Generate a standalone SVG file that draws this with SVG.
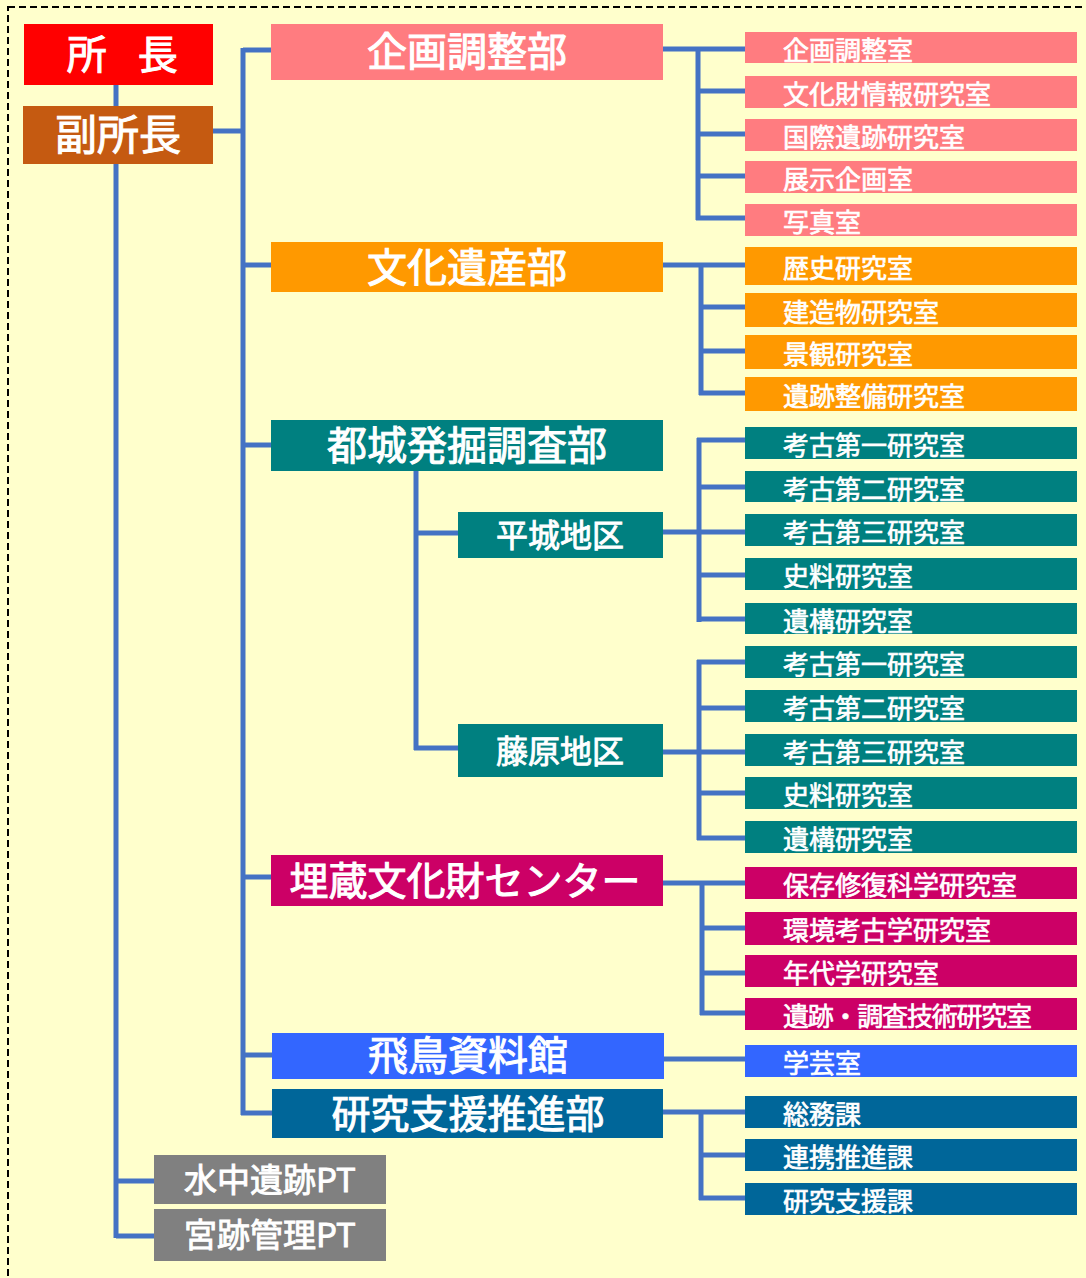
<svg xmlns="http://www.w3.org/2000/svg" width="1086" height="1278" viewBox="0 0 1086 1278">
<style>
text{font-family:"Noto Sans CJK JP","Noto Sans",sans-serif;fill:#fff;stroke:#fff;stroke-width:0.7px}
.big{font-size:40px;text-anchor:middle;stroke-width:1px}
.mid{font-size:32px;text-anchor:middle;stroke-width:0.9px}
.sub{font-size:26px}
.c line,.c polyline{stroke:#4472C4;stroke-width:5;fill:none}
.kikaku{fill:#FF7C80}.bunka{fill:#FF9900}.tojo{fill:#008080}.maizo{fill:#CC0066}.asuka{fill:#3366FF}.kenkyu{fill:#006699}.pt{fill:#808080}
</style>
<rect x="0" y="0" width="1086" height="1278" fill="#FFFFCC"/>
<rect x="8" y="7" width="1100" height="1300" fill="none" stroke="#000" stroke-width="2" stroke-dasharray="7 4"/>
<g class="c" id="connectors">
<line x1="116" y1="85" x2="116" y2="1238"/>
<polyline points="154,1181 116,1181"/>
<polyline points="154,1236 116,1236"/>
<line x1="213" y1="131" x2="243" y2="131"/>
<line x1="243" y1="48" x2="243" y2="1115"/>
<line x1="243" y1="50" x2="271" y2="50"/>
<line x1="243" y1="265" x2="271" y2="265"/>
<line x1="243" y1="445" x2="271" y2="445"/>
<line x1="243" y1="877" x2="271" y2="877"/>
<line x1="243" y1="1055" x2="272" y2="1055"/>
<line x1="241" y1="1113" x2="272" y2="1113"/>
<line x1="663" y1="49" x2="745" y2="49"/>
<line x1="698" y1="47" x2="698" y2="220"/>
<line x1="698" y1="91" x2="745" y2="91"/>
<line x1="698" y1="134" x2="745" y2="134"/>
<line x1="698" y1="176" x2="745" y2="176"/>
<line x1="696" y1="218" x2="745" y2="218"/>
<line x1="663" y1="265" x2="745" y2="265"/>
<line x1="701" y1="263" x2="701" y2="395"/>
<line x1="701" y1="307" x2="745" y2="307"/>
<line x1="701" y1="351" x2="745" y2="351"/>
<line x1="699" y1="393" x2="745" y2="393"/>
<line x1="416" y1="471" x2="416" y2="750"/>
<line x1="416" y1="533" x2="458" y2="533"/>
<line x1="414" y1="748" x2="458" y2="748"/>
<line x1="663" y1="532" x2="699" y2="532"/>
<line x1="699" y1="438" x2="699" y2="622"/>
<line x1="697" y1="440" x2="745" y2="440"/>
<line x1="699" y1="487" x2="745" y2="487"/>
<line x1="699" y1="532" x2="745" y2="532"/>
<line x1="699" y1="575" x2="745" y2="575"/>
<line x1="697" y1="619" x2="745" y2="619"/>
<line x1="663" y1="752" x2="699" y2="752"/>
<line x1="699" y1="660" x2="699" y2="840"/>
<line x1="697" y1="662" x2="745" y2="662"/>
<line x1="699" y1="708" x2="745" y2="708"/>
<line x1="699" y1="752" x2="745" y2="752"/>
<line x1="699" y1="793" x2="745" y2="793"/>
<line x1="697" y1="838" x2="745" y2="838"/>
<line x1="663" y1="883" x2="745" y2="883"/>
<line x1="702" y1="881" x2="702" y2="1015"/>
<line x1="702" y1="928" x2="745" y2="928"/>
<line x1="702" y1="973" x2="745" y2="973"/>
<line x1="700" y1="1013" x2="745" y2="1013"/>
<line x1="664" y1="1059" x2="745" y2="1059"/>
<line x1="663" y1="1112" x2="745" y2="1112"/>
<line x1="701" y1="1110" x2="701" y2="1200"/>
<line x1="701" y1="1155" x2="745" y2="1155"/>
<line x1="699" y1="1198" x2="745" y2="1198"/>
</g>
<g id="shocho"><rect x="24" y="24" width="189" height="61" fill="#FF0000"/><text class="big" x="120" y="69" style="letter-spacing:-4.5px">所　長</text></g>
<g id="fukushocho"><rect x="23" y="106" width="190" height="58" fill="#C55A11"/><text class="big" x="118" y="150" style="font-size:42px">副所長</text></g>

<g id="kikaku"><rect class="kikaku" x="271" y="24" width="392" height="56"/><text class="big" x="467" y="66">企画調整部</text></g>
<g id="kikaku-1"><rect class="kikaku" x="745" y="32" width="332" height="31"/><text class="sub" x="783" y="60">企画調整室</text></g>
<g id="kikaku-2"><rect class="kikaku" x="745" y="76" width="332" height="32"/><text class="sub" x="783" y="104">文化財情報研究室</text></g>
<g id="kikaku-3"><rect class="kikaku" x="745" y="119" width="332" height="32"/><text class="sub" x="783" y="147">国際遺跡研究室</text></g>
<g id="kikaku-4"><rect class="kikaku" x="745" y="161" width="332" height="32"/><text class="sub" x="783" y="189">展示企画室</text></g>
<g id="kikaku-5"><rect class="kikaku" x="745" y="204" width="332" height="32"/><text class="sub" x="783" y="232">写真室</text></g>

<g id="bunka"><rect class="bunka" x="271" y="242" width="392" height="50"/><text class="big" x="467" y="282">文化遺産部</text></g>
<g id="bunka-1"><rect class="bunka" x="745" y="247" width="332" height="38"/><text class="sub" x="783" y="278">歴史研究室</text></g>
<g id="bunka-2"><rect class="bunka" x="745" y="293" width="332" height="34"/><text class="sub" x="783" y="322">建造物研究室</text></g>
<g id="bunka-3"><rect class="bunka" x="745" y="335" width="332" height="34"/><text class="sub" x="783" y="364">景観研究室</text></g>
<g id="bunka-4"><rect class="bunka" x="745" y="377" width="332" height="34"/><text class="sub" x="783" y="406">遺跡整備研究室</text></g>

<g id="tojo"><rect class="tojo" x="271" y="420" width="392" height="51"/><text class="big" x="467" y="460">都城発掘調査部</text></g>
<g id="heijo"><rect class="tojo" x="458" y="512" width="205" height="46"/><text class="mid" x="560" y="547">平城地区</text></g>
<g id="heijo-1"><rect class="tojo" x="745" y="427" width="332" height="32"/><text class="sub" x="783" y="455">考古第一研究室</text></g>
<g id="heijo-2"><rect class="tojo" x="745" y="471" width="332" height="31"/><text class="sub" x="783" y="499">考古第二研究室</text></g>
<g id="heijo-3"><rect class="tojo" x="745" y="514" width="332" height="32"/><text class="sub" x="783" y="542">考古第三研究室</text></g>
<g id="heijo-4"><rect class="tojo" x="745" y="558" width="332" height="32"/><text class="sub" x="783" y="586">史料研究室</text></g>
<g id="heijo-5"><rect class="tojo" x="745" y="603" width="332" height="31"/><text class="sub" x="783" y="631">遺構研究室</text></g>
<g id="fujiwara"><rect class="tojo" x="458" y="724" width="205" height="53"/><text class="mid" x="560" y="763">藤原地区</text></g>
<g id="fujiwara-1"><rect class="tojo" x="745" y="646" width="332" height="32"/><text class="sub" x="783" y="674">考古第一研究室</text></g>
<g id="fujiwara-2"><rect class="tojo" x="745" y="690" width="332" height="32"/><text class="sub" x="783" y="718">考古第二研究室</text></g>
<g id="fujiwara-3"><rect class="tojo" x="745" y="734" width="332" height="32"/><text class="sub" x="783" y="762">考古第三研究室</text></g>
<g id="fujiwara-4"><rect class="tojo" x="745" y="777" width="332" height="32"/><text class="sub" x="783" y="805">史料研究室</text></g>
<g id="fujiwara-5"><rect class="tojo" x="745" y="821" width="332" height="32"/><text class="sub" x="783" y="849">遺構研究室</text></g>

<g id="maizo"><rect class="maizo" x="271" y="855" width="392" height="51"/><text class="big" x="465" y="895" style="font-size:39px">埋蔵文化財センター</text></g>
<g id="maizo-1"><rect class="maizo" x="745" y="867" width="332" height="32"/><text class="sub" x="783" y="895">保存修復科学研究室</text></g>
<g id="maizo-2"><rect class="maizo" x="745" y="912" width="332" height="33"/><text class="sub" x="783" y="940">環境考古学研究室</text></g>
<g id="maizo-3"><rect class="maizo" x="745" y="955" width="332" height="32"/><text class="sub" x="783" y="983">年代学研究室</text></g>
<g id="maizo-4"><rect class="maizo" x="745" y="998" width="332" height="32"/><text class="sub" x="783" y="1026" textLength="249" lengthAdjust="spacing">遺跡・調査技術研究室</text></g>

<g id="asuka"><rect class="asuka" x="272" y="1033" width="392" height="46"/><text class="big" x="468" y="1070">飛鳥資料館</text></g>
<g id="asuka-1"><rect class="asuka" x="745" y="1045" width="332" height="32"/><text class="sub" x="783" y="1073">学芸室</text></g>

<g id="kenkyu"><rect class="kenkyu" x="272" y="1089" width="391" height="49"/><text class="big" x="468" y="1128" style="font-size:39px">研究支援推進部</text></g>
<g id="kenkyu-1"><rect class="kenkyu" x="745" y="1096" width="332" height="32"/><text class="sub" x="783" y="1124">総務課</text></g>
<g id="kenkyu-2"><rect class="kenkyu" x="745" y="1139" width="332" height="32"/><text class="sub" x="783" y="1167">連携推進課</text></g>
<g id="kenkyu-3"><rect class="kenkyu" x="745" y="1183" width="332" height="32"/><text class="sub" x="783" y="1211">研究支援課</text></g>

<g id="suichu"><rect class="pt" x="154" y="1155" width="232" height="49"/><text class="mid" x="270" y="1192" style="font-size:33px">水中遺跡PT</text></g>
<g id="kyuseki"><rect class="pt" x="154" y="1209" width="232" height="52"/><text class="mid" x="270" y="1247" style="font-size:33px">宮跡管理PT</text></g>
</svg>
